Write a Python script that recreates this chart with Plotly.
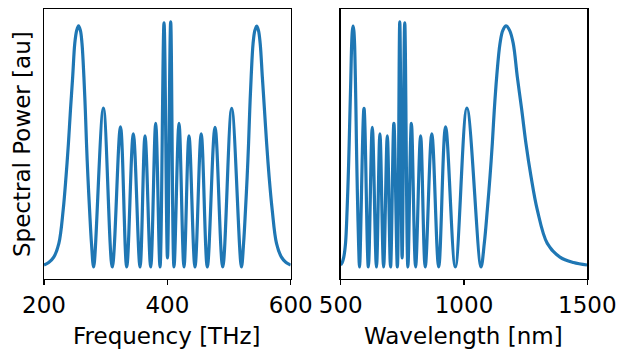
import plotly.graph_objects as go

# Spectrum samples (frequency in THz, power normalised)
freq_thz = [200.0, 207.6, 215.8, 224.1, 231.1, 235.7, 239.6, 242.9, 246.5, 249.9,
            253.0, 256.0, 259.0, 261.6, 264.7, 267.0, 268.9, 271.2, 273.9, 277.0, 280.5,
            296.3, 310.7, 324.0, 334.1, 344.8, 355.7, 363.8, 373.0, 381.1, 388.1,
            394.6, 400.2, 405.4, 410.8, 418.9, 427.0, 435.1, 444.8, 454.9, 464.8,
            477.3, 489.8, 504.3, 520.1,
            523.6, 526.7, 529.4, 531.7, 533.6, 535.9, 539.0, 541.9, 544.8, 547.7,
            550.5, 554.0, 557.5, 561.0, 565.0, 570.0, 577.0, 585.0, 592.5, 600.0]
power_au = [0.008, 0.018, 0.040, 0.096, 0.232, 0.367, 0.502, 0.638, 0.773, 0.909,
            0.962, 0.980, 0.962, 0.909, 0.773, 0.638, 0.503, 0.367, 0.232, 0.096, 0.0,
            0.646, 0.0, 0.570, 0.0, 0.541, 0.0, 0.533, 0.0, 0.584, 0.0,
            0.993, 0.037, 0.997, 0.0, 0.584, 0.0, 0.533, 0.0, 0.541, 0.0,
            0.568, 0.0, 0.645, 0.0,
            0.096, 0.232, 0.367, 0.503, 0.638, 0.773, 0.909, 0.962, 0.979, 0.962,
            0.909, 0.773, 0.638, 0.502, 0.367, 0.232, 0.096, 0.040, 0.018, 0.008]

C_NM_THZ = 299792.458
wavelength_nm = [C_NM_THZ / f for f in freq_thz]

freq_ticks = [200, 400, 600]
wl_ticks = [500, 1000, 1500]

LINE = dict(color="#1f77b4", width=3.2, shape="spline", smoothing=1.0)
FONT = dict(family="DejaVu Sans", size=23, color="black")

fig = go.Figure()
fig.add_trace(go.Scatter(x=freq_thz, y=power_au, mode="lines", line=LINE,
                         xaxis="x", yaxis="y", showlegend=False, hoverinfo="skip"))
fig.add_trace(go.Scatter(x=wavelength_nm, y=power_au, mode="lines", line=LINE,
                         xaxis="x2", yaxis="y2", showlegend=False, hoverinfo="skip"))

W, H = 619, 349
ydom = [1 - 279 / H, 1 - 9 / H]
xdom1 = [44 / W, 290.7 / W]
xdom2 = [340.7 / W, 587.3 / W]
yrange = [-0.0488, 1.0488]

common_x = dict(showline=True, mirror=True, linecolor="black", linewidth=1.3,
                ticks="outside", ticklen=5, tickwidth=1.3, tickcolor="black",
                tickfont=FONT, showgrid=False, zeroline=False, automargin=False)
common_y = dict(showline=True, mirror=True, linecolor="black", linewidth=1.3,
                ticks="", showticklabels=False, showgrid=False, zeroline=False,
                range=yrange, automargin=False)

fig.update_layout(
    template="none",
    width=W, height=H,
    margin=dict(l=0, r=0, t=0, b=0, pad=0),
    paper_bgcolor="white", plot_bgcolor="white",
    font=FONT,
    xaxis=dict(domain=xdom1, anchor="y", range=[200, 600], tickvals=freq_ticks, **common_x),
    xaxis2=dict(domain=xdom2, anchor="y2", range=[500, 1500], tickvals=wl_ticks, **common_x),
    yaxis=dict(domain=ydom, anchor="x", **common_y),
    yaxis2=dict(domain=ydom, anchor="x2", **common_y),
    annotations=[
        dict(text="Frequency [THz]", x=(xdom1[0] + xdom1[1]) / 2, y=1 - 336 / H,
             xref="paper", yref="paper", xanchor="center", yanchor="middle",
             showarrow=False, font=FONT),
        dict(text="Wavelength [nm]", x=(xdom2[0] + xdom2[1]) / 2, y=1 - 336 / H,
             xref="paper", yref="paper", xanchor="center", yanchor="middle",
             showarrow=False, font=FONT),
        dict(text="Spectral Power [au]", x=22 / W, y=1 - 144 / H,
             xref="paper", yref="paper", xanchor="center", yanchor="middle",
             textangle=-90, showarrow=False, font=FONT),
    ],
)

fig.write_html("out.html", config={"displayModeBar": False, "staticPlot": True},
               post_script="document.body.style.margin='0px';document.body.style.overflow='hidden';")
